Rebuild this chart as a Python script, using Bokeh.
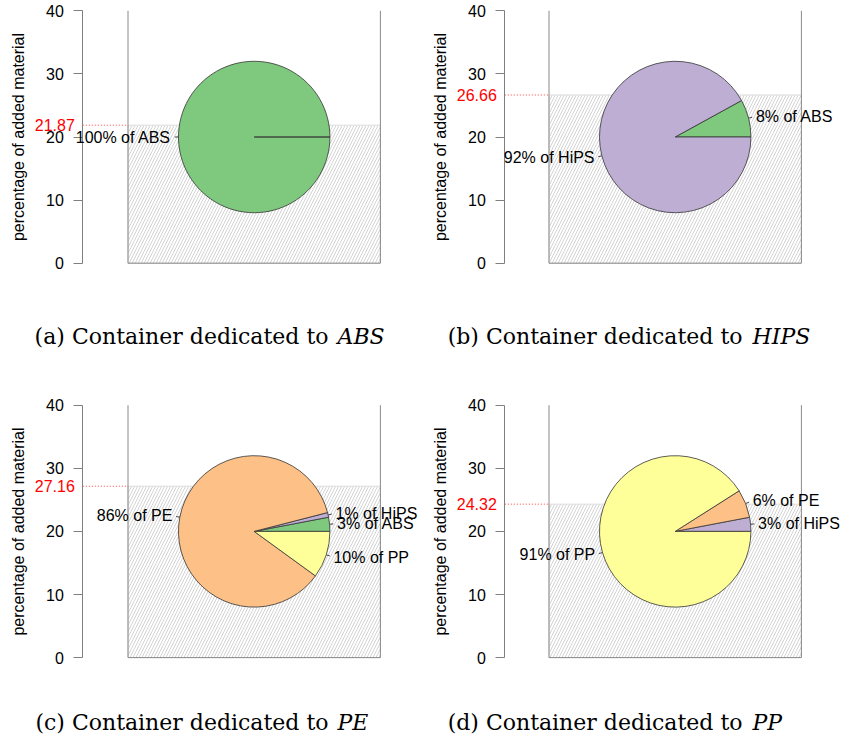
import numpy as np
from bokeh.plotting import figure
from bokeh.models import Range1d, FixedTicker, Label
from bokeh.layouts import column, row
from bokeh.embed import file_html
from bokeh.resources import INLINE

# ---------------- data ----------------
panel_letters = ["a", "b", "c", "d"]
dedicated_to = ["ABS", "HIPS", "PE", "PP"]
fill_levels = [21.87, 26.66, 27.16, 24.32]
slice_materials = [["ABS"], ["ABS", "HiPS"], ["ABS", "HiPS", "PE", "PP"], ["HiPS", "PE", "PP"]]
slice_shares = [[100], [8, 92], [3, 1, 86, 10], [3, 6, 91]]
material_colors = {"ABS": "#7fc97f", "HiPS": "#beaed4", "PE": "#fdc086", "PP": "#ffff99"}
y_ticks = [0, 10, 20, 30, 40]
capacity = 40

# ---------------- layout constants (page pixels) ----------------
PPU = 6.31                   # pixels per data unit (both axes)
PIE_CX, PIE_CY, PIE_R = 20, 20, 12
SANS = "Liberation Sans"
SERIF = "DejaVu Serif"
FS = "16px"
CAP_FS = "22px"

cols = [dict(left=0, width=420, box_left=127.5, axis=82.3, up_right=328, it_left=337),
        dict(left=420, width=422, box_left=548.5, axis=504.3, up_right=742, it_left=752)]
rows = [dict(top=0, height=390, y40=10.3, cap=335.5),
        dict(top=390, height=354, y40=404.7, cap=722)]


def make_panel(k):
    r = rows[k // 2]
    c = cols[k % 2]
    x0 = -(c["box_left"] - c["left"]) / PPU
    x1 = x0 + c["width"] / PPU
    y1 = 40 + (r["y40"] - r["top"]) / PPU
    y0 = y1 - r["height"] / PPU

    def px2x(px):
        return x0 + (px - c["left"]) / PPU

    def py2y(py):
        return y1 - (py - r["top"]) / PPU

    axis_x = px2x(c["axis"])

    p = figure(width=c["width"], height=r["height"], output_backend="svg",
               toolbar_location=None, x_axis_location=None, y_axis_location="left",
               x_range=Range1d(x0, x1), y_range=Range1d(y0, y1),
               min_border_left=0, min_border_right=0,
               min_border_top=0, min_border_bottom=0, outline_line_color=None)
    for g in p.grid:
        g.visible = False
    ax = p.yaxis[0]
    ax.fixed_location = axis_x
    ax.ticker = FixedTicker(ticks=y_ticks)
    ax.bounds = (0, 40)
    ax.axis_label = "percentage of added material"
    ax.axis_label_text_font = SANS
    ax.axis_label_text_font_size = FS
    ax.axis_label_text_font_style = "normal"
    ax.axis_label_text_color = "black"
    ax.axis_label_standoff = 16
    ax.axis_line_color = "#7f7f7f"
    ax.major_tick_line_color = "#7f7f7f"
    ax.major_tick_out = 9
    ax.major_tick_in = 0
    ax.minor_tick_line_color = None
    ax.major_label_text_font = SANS
    ax.major_label_text_font_size = FS
    ax.major_label_text_color = "black"
    ax.major_label_standoff = 10

    level = fill_levels[k]
    # hatched fill of the container
    p.quad(left=[0], right=[capacity], bottom=[0], top=[level], fill_alpha=0,
           hatch_pattern="/", hatch_color="#c8c8c8", hatch_scale=6, hatch_weight=0.8,
           line_color="#dcdcdc", line_width=1)
    # container walls
    p.segment(x0=[0, capacity, 0], y0=[0, 0, 0], x1=[0, capacity, capacity],
              y1=[capacity, capacity, 0], line_color="#8a8a8a", line_width=1)
    # red dotted marker
    p.segment(x0=[axis_x], y0=[level], x1=[0], y1=[level], line_color="#ff4040",
              line_dash="1 2", line_width=1)
    p.add_layout(Label(x=axis_x, y=level, x_offset=-8, text=f"{level:.2f}",
                       text_align="right", text_baseline="middle", text_color="red",
                       text_font=SANS, text_font_size=FS))

    # pie
    shares = np.array(slice_shares[k], dtype=float)
    fr = shares / shares.sum()
    cum = np.cumsum(fr) * 2 * np.pi
    starts = np.concatenate([[0.0], cum[:-1]])
    ends = np.minimum(cum, 2 * np.pi - 1e-4)
    mats = slice_materials[k]
    p.wedge(x=[PIE_CX] * len(mats), y=[PIE_CY] * len(mats), radius=PIE_R,
            start_angle=list(starts), end_angle=list(ends),
            fill_color=[material_colors[m] for m in mats],
            line_color="#333333", line_width=0.8)
    mids = (starts + cum) / 2
    lx0 = PIE_CX + PIE_R * np.cos(mids)
    ly0 = PIE_CY + PIE_R * np.sin(mids)
    lx1 = PIE_CX + 1.05 * PIE_R * np.cos(mids)
    ly1 = PIE_CY + 1.05 * PIE_R * np.sin(mids)
    p.segment(x0=list(lx0), y0=list(ly0), x1=list(lx1), y1=list(ly1),
              line_color="#444444", line_width=1)
    for m, s, a in zip(mats, slice_shares[k], mids):
        tx = PIE_CX + 1.1 * PIE_R * np.cos(a)
        ty = PIE_CY + 1.1 * PIE_R * np.sin(a)
        p.add_layout(Label(x=tx, y=ty, text=f"{s}% of {m}",
                           text_align="right" if np.cos(a) < 0 else "left",
                           text_baseline="middle", text_color="black",
                           text_font=SANS, text_font_size=FS))

    # caption
    cy = py2y(r["cap"])
    p.add_layout(Label(x=px2x(c["up_right"]), y=cy,
                       text=f"({panel_letters[k]}) Container dedicated to",
                       text_align="right", text_baseline="middle", text_color="black",
                       text_font=SERIF, text_font_size=CAP_FS))
    p.add_layout(Label(x=px2x(c["it_left"]), y=cy, text=dedicated_to[k],
                       text_align="left", text_baseline="middle", text_color="black",
                       text_font=SERIF, text_font_style="italic", text_font_size=CAP_FS))
    return p


panels = [make_panel(k) for k in range(4)]
layout = column(row(panels[0], panels[1]), row(panels[2], panels[3]))

with open("out.html", "w") as f:
    f.write(file_html(layout, INLINE))
